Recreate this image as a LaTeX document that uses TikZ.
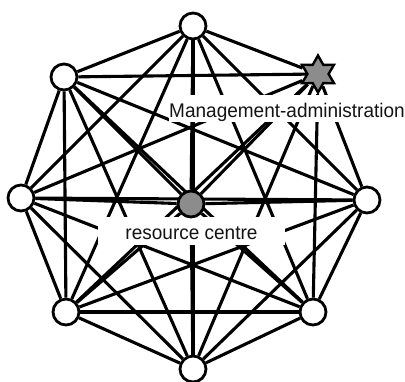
\documentclass[tikz,border=0pt]{standalone}
\usepackage{fontspec}
\usepackage{graphicx}
\setmainfont{Liberation Sans}
\usetikzlibrary{shapes.geometric}
\pgfdeclarelayer{edges}
\pgfdeclarelayer{boxes}
\pgfsetlayers{edges,boxes,main}
\tikzset{
  peer/.style={circle, draw=black, fill=white, line width=2.8pt, minimum size=26pt, inner sep=0pt},
  hub/.style={peer, fill=black!45},
  admin/.style={star, star points=6, star point ratio=1.75, draw=black, fill=black!45, line width=2.4pt, minimum size=37pt, inner sep=0pt},
  edge/.style={draw=black, line width=3.1pt},
  tag/.style={fill=white, inner sep=0pt, text=black!92, font=\fontsize{19}{21}\selectfont}
}
\begin{document}
\begin{tikzpicture}[x=1pt,y=-1pt]
\useasboundingbox (0,0) rectangle (405,381);
\clip (0,0) rectangle (405,381);
\node[peer]  (T)  at (193,26) {};
\node[admin] (S)  at (318,74) {};
\node[peer]  (R)  at (367,200) {};
\node[peer]  (BR) at (313,312) {};
\node[peer]  (B)  at (193,369) {};
\node[peer]  (BL) at (66,312) {};
\node[peer]  (L)  at (21,198) {};
\node[peer]  (TL) at (64,77) {};
\node[hub]   (C)  at (191,204) {};
\begin{pgfonlayer}{edges}
\foreach \a [count=\i] in {T,S,R,BR,B,BL,L,TL,C} {
  \foreach \b [count=\j] in {T,S,R,BR,B,BL,L,TL,C} {
    \ifnum\i<\j \draw[edge] (\a) -- (\b); \fi
  }
}
\end{pgfonlayer}
\begin{pgfonlayer}{boxes}
\node[tag, minimum width=229pt, minimum height=27pt, text height=22pt, text depth=5pt] (mgmt) at (287,108.5) {\scalebox{1}[1.04]{Management-administration}};
\node[tag, minimum width=187pt, minimum height=28pt, text height=22pt, text depth=6pt] (rc) at (191.5,231) {\scalebox{1}[1.04]{resource centre}};
\end{pgfonlayer}
\end{tikzpicture}
\end{document}
